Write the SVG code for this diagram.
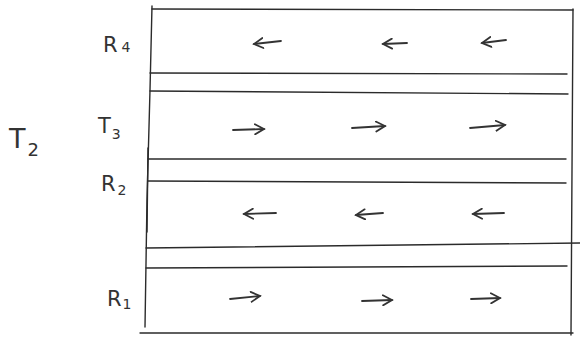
<svg xmlns="http://www.w3.org/2000/svg" width="580" height="339" viewBox="0 0 580 339">
<style>
.ln{stroke:#2b2b2b;stroke-width:1.4;fill:none;stroke-linecap:round}
.ar{stroke:#333;stroke-width:1.8;fill:none;stroke-linecap:round;marker-end:url(#h)}
.lb{font-family:"DejaVu Sans","Liberation Sans",sans-serif;font-size:21px;fill:#333;font-weight:normal}
.sb{font-size:14px}
</style>
<defs>
<marker id="h" viewBox="0 0 12 12" refX="10" refY="6" markerWidth="12" markerHeight="12" markerUnits="userSpaceOnUse" orient="auto">
<path d="M1,1 L10,6 L1,11" fill="none" stroke="#333" stroke-width="1.8" stroke-linecap="round"/>
</marker>
</defs>
<rect width="580" height="339" fill="#fff"/>
<g id="frame">
<path class="ln" d="M152,6 L150,90 L147,200 L145,327"/>
<path class="ln" d="M148,148 L147,232"/>
<path class="ln" d="M573,9 L572,170 L571,335"/>
</g>
<g id="lane-R4">
<path class="ln" d="M152,9 L573,10"/>
<path class="ln" d="M150,73 L567,74"/>
<text class="lb" x="103" y="52">R<tspan class="sb" dx="4">4</tspan></text>
</g>
<g id="lane-T3">
<path class="ln" d="M150,91 L568,94"/>
<path class="ln" d="M148,159 L566,159"/>
<text class="lb" x="98" y="133">T<tspan class="sb" dx="1" dy="6">3</tspan></text>
</g>
<g id="lane-R2">
<path class="ln" d="M148,181 L566,183"/>
<path class="ln" d="M146,248 L580,243"/>
<text class="lb" x="101" y="191">R<tspan class="sb" dx="2" dy="4">2</tspan></text>
</g>
<g id="lane-R1">
<path class="ln" d="M146,268 L567,266"/>
<path class="ln" d="M140,333 L573,333"/>
<text class="lb" x="107" y="306">R<tspan class="sb" dx="1" dy="3">1</tspan></text>
</g>
<g id="label-T2">
<text class="lb" x="9" y="148" style="font-size:27px">T<tspan style="font-size:18px" dx="2" dy="8">2</tspan></text>
</g>
<g id="connectors">
<line class="ar" x1="281" y1="41" x2="254" y2="44"/>
<line class="ar" x1="407" y1="43" x2="383" y2="44"/>
<line class="ar" x1="506" y1="40" x2="482" y2="43"/>
<line class="ar" x1="233" y1="130" x2="264" y2="129"/>
<line class="ar" x1="352" y1="128" x2="385" y2="126"/>
<line class="ar" x1="470" y1="128" x2="505" y2="125"/>
<line class="ar" x1="276" y1="213" x2="244" y2="214"/>
<line class="ar" x1="383" y1="213" x2="356" y2="215"/>
<line class="ar" x1="504" y1="213" x2="473" y2="214"/>
<line class="ar" x1="230" y1="299" x2="260" y2="296"/>
<line class="ar" x1="362" y1="301" x2="392" y2="300"/>
<line class="ar" x1="471" y1="299" x2="500" y2="298"/>
</g>
</svg>
